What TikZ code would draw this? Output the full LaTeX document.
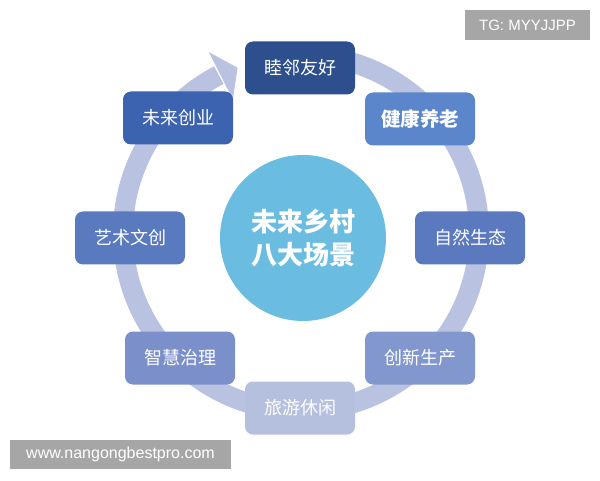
\documentclass[tikz,border=0pt]{standalone}
\usepackage{fontspec}
\newfontfamily\cjk{Noto Sans CJK SC}
\newfontfamily\wm{Liberation Sans}
\definecolor{ringcol}{HTML}{B9C3E1}
\definecolor{c1}{HTML}{2D4F8E}
\definecolor{c2}{HTML}{5B86CB}
\definecolor{c3}{HTML}{5B79BE}
\definecolor{c4}{HTML}{8397CF}
\definecolor{c5}{HTML}{B5BFDE}
\definecolor{c6}{HTML}{7B90CA}
\definecolor{c7}{HTML}{5A7AC0}
\definecolor{c8}{HTML}{3C63AF}
\definecolor{centercol}{HTML}{6ABDE0}
\definecolor{wmgray}{HTML}{A6A6A6}
\begin{document}
\begin{tikzpicture}[x=1pt,y=1pt,
  box/.style={rounded corners=8pt, minimum width=110pt, minimum height=53pt,
    inner sep=0pt, text=white, font=\cjk\fontsize{18}{20}\selectfont},
  wmbox/.style={fill=wmgray, text=white, inner sep=0pt}]
\useasboundingbox (0,0) rectangle (600,480);
\fill[white] (0,0) rectangle (600,480);
% ring with arrow
\coordinate (rc) at (301,247);
\draw[ringcol, line width=20pt] ([shift={(rc)}]85:178pt) arc[start angle=85, end angle=-242.5, radius=178pt];
\fill[ringcol] ([shift={(rc)}]117:150pt) -- ([shift={(rc)}]117:203pt) -- ([shift={(rc)}]111:177pt) -- cycle;
% center
\node[circle, fill=centercol, minimum size=166pt, inner sep=0pt, text=white,
  align=center, font=\cjk\bfseries\fontsize{26}{33}\selectfont] (c) at (303,242) {未来乡村\\八大场景};
% boxes
\node[box, fill=c1] (b1) at (300,412) {睦邻友好};
\node[box, fill=c2, font=\cjk\bfseries\fontsize{19.5}{22}\selectfont] (b2) at (420,361) {健康养老};
\node[box, fill=c3] (b3) at (470,242) {自然生态};
\node[box, fill=c4] (b4) at (420,122) {创新生产};
\node[box, fill=c5] (b5) at (300,72) {旅游休闲};
\node[box, fill=c6] (b6) at (180,122) {智慧治理};
\node[box, fill=c7] (b7) at (130,242) {艺术文创};
\node[box, fill=c8] (b8) at (178,362) {未来创业};
% watermarks
\node[wmbox, minimum width=125pt, minimum height=30pt, font=\wm\fontsize{15}{18}\selectfont] (tg) at (527.5,455) {TG: MYYJJPP};
\node[wmbox, minimum width=221pt, minimum height=29pt, font=\wm\fontsize{16}{19}\selectfont] (url) at (120.5,25.5) {www.nangongbestpro.com};
\end{tikzpicture}
\end{document}
